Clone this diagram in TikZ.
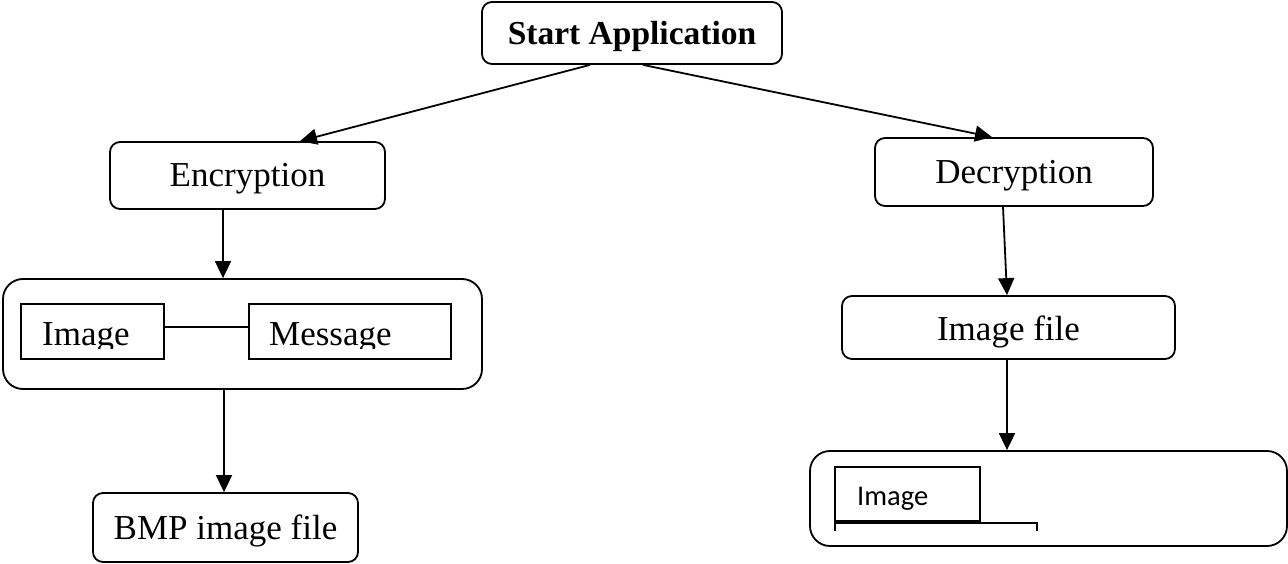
\documentclass[tikz,border=0pt]{standalone}
\usepackage{fontspec}
\setmainfont{Liberation Serif}
\newfontfamily\calib{Carlito}
\usetikzlibrary{arrows.meta,calc}
\begin{document}
\begin{tikzpicture}[x=1pt,y=-1pt,
  every node/.style={font=\fontsize{35}{42}\selectfont},
  rbox/.style={draw,line width=1.8pt,rounded corners=10pt,inner sep=0pt,text height=23pt,text depth=0pt},
  bigbox/.style={draw,line width=1.8pt,rounded corners=20pt,inner sep=0pt},
  sqbox/.style={draw,line width=1.8pt,inner sep=0pt},
  arr/.style={line width=1.8pt,-{Triangle[length=17pt,width=16pt]}},
  ln/.style={line width=1.8pt}]
\useasboundingbox (0,0) rectangle (1288,564);
% boxes
\node[rbox,minimum width=300pt,minimum height=62pt,font=\fontsize{33.5}{40}\selectfont\bfseries] (start) at (632,33) {Start Application};
\node[rbox,minimum width=275pt,minimum height=67pt] (enc) at (247.5,175.5) {Encryption};
\node[rbox,minimum width=278pt,minimum height=68pt] (dec) at (1014,172) {Decryption};
\node[bigbox,minimum width=479pt,minimum height=110pt] (bigL) at (242.5,334) {};
\node[sqbox,minimum width=143pt,minimum height=55pt] (imgL) at (92.5,331.5) {};
\node[sqbox,minimum width=202pt,minimum height=55pt] (msg) at (350,331.5) {};
\begin{scope}
\clip (21,300) rectangle (451,348);
\node[inner sep=0pt,anchor=base west] (imgLt) at (42,345) {Image};
\node[inner sep=0pt,anchor=base west] (msgt) at (269,345) {Message};
\end{scope}
\node[rbox,minimum width=265pt,minimum height=69pt] (bmp) at (225.5,527.5) {BMP image file};
\node[rbox,minimum width=333pt,minimum height=63pt,text height=26pt] (imgfile) at (1008.5,327.5) {Image file};
\node[bigbox,minimum width=477pt,minimum height=95pt] (bigR) at (1048.5,498.5) {};
\node[sqbox,minimum width=145pt,minimum height=54pt] (imgR) at (907.5,494) {};
\node[inner sep=0pt,anchor=base west,font=\calib\fontsize{28.5}{34}\selectfont] (imgRt) at (857,505) {Image};
\draw[ln] (835,531) -- (835,523) -- (1037,523) -- (1037,531);
% connectors
\draw[arr] ([xshift=-42pt]start.south) -- ([xshift=52.5pt]enc.north);
\draw[arr] ([xshift=11pt]start.south) -- ([xshift=-22pt]dec.north);
\draw[arr] ([xshift=-24.5pt]enc.south) -- ([xshift=-19.5pt]bigL.north);
\draw[ln] ([yshift=4.5pt]imgL.east) -- ([yshift=4.5pt]msg.west);
\draw[arr] ([xshift=-18.5pt]bigL.south) -- ([xshift=-1.5pt]bmp.north);
\draw[arr] ([xshift=-11pt]dec.south) -- ([xshift=-1.5pt]imgfile.north);
\draw[arr] ([xshift=-1.5pt]imgfile.south) -- ([xshift=-41.5pt]bigR.north);
\end{tikzpicture}
\end{document}
